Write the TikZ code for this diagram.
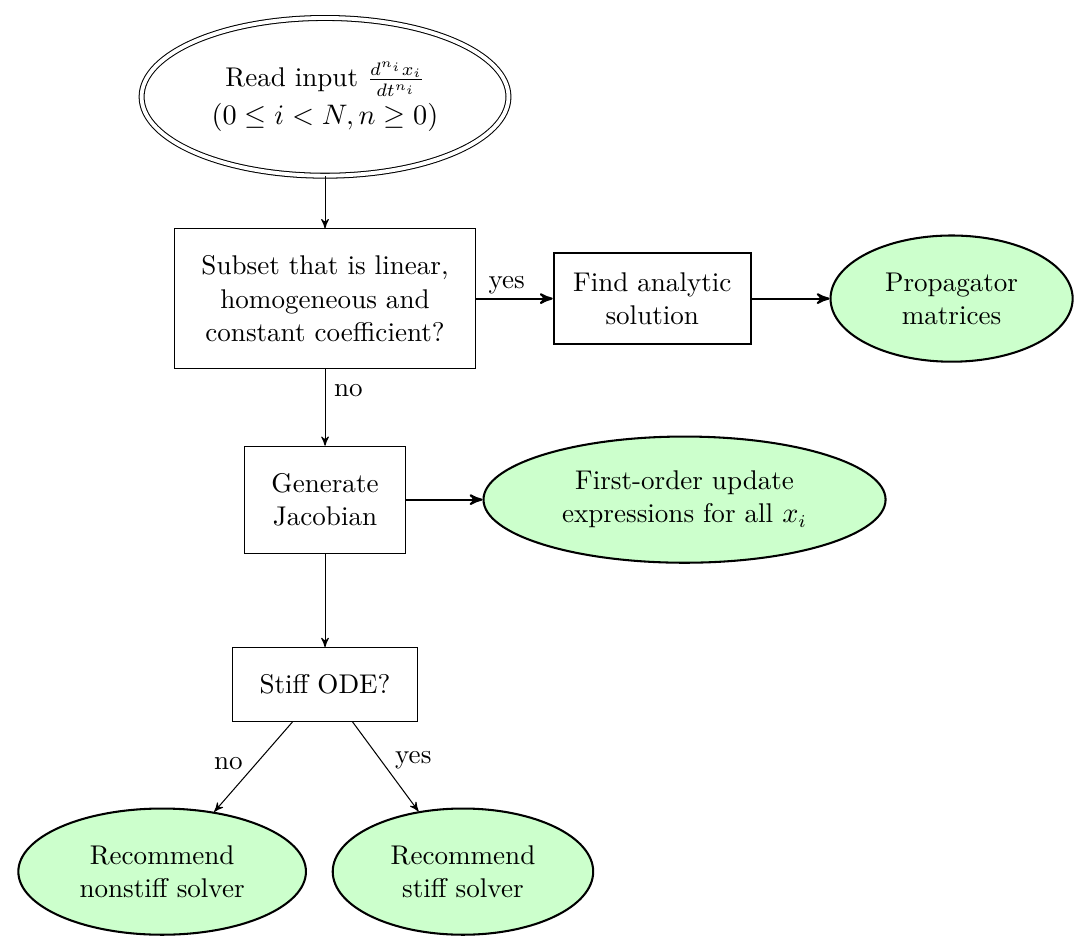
\documentclass[tikz,border=0pt]{standalone}
\usepackage{amsmath}
\usetikzlibrary{arrows,positioning,shapes}
\definecolor{resgreen}{RGB}{204,255,204}

\begin{document}
\begin{tikzpicture}[node distance=10mm,on grid,>=stealth',auto,font=\fontsize{10.5}{12.8}\selectfont,
		test/.style={rectangle,draw=black,inner sep=10.5pt,align=center},
		action/.style={rectangle,draw=black,thick,inner sep=7.5pt,align=center},
		input/.style={ellipse,draw=black,double,double distance=1.5pt,minimum width=5cm,minimum height=2.15cm,inner sep=0pt,align=center},
		result/.style={ellipse,draw=black,thick,fill=resgreen,minimum height=1.72cm,inner sep=0pt,align=center}]
		\useasboundingbox (-4.43,1.32) rectangle (10.44,-11.59);
		\node[input]  (read)                              {Read input $\frac{d^{n_i}x_i}{dt^{n_i}}$\\[2pt]$(0\leq i<N, n\geq 0)$};
		\node[test]   (subset) [below=27.5mm of read]     {Subset that is linear,\\homogeneous and\\constant coefficient?};
		\node[action] (find)   [right=44.6mm of subset]   {Find analytic\\solution};
		\node[result,minimum width=3.3cm] (prop) [right=40.8mm of find] {Propagator\\matrices};
		\node[test]   (jac)    [below=27.4mm of subset]   {Generate\\Jacobian};
		\node[result,minimum width=5.48cm] (first) [right=49mm of jac] {First-order update\\expressions for all $x_i$};
		\node[test]   (stiff)  [below=25.2mm of jac]      {Stiff ODE?};
		\node[result,minimum width=3.92cm] (nonstiffsol) [below left=25.5mm and 22.2mm of stiff] {Recommend\\nonstiff solver};
		\node[result,minimum width=3.55cm] (stiffsol)    [below right=25.5mm and 18.8mm of stiff] {Recommend\\stiff solver};
		
		\path[->]
		(read) edge (subset)
		(subset) edge[thick] node[pos=0.4,inner sep=1.5pt] {yes} (find)
		(find) edge[thick] (prop)
		(subset) edge node[pos=0.28] {no} (jac)
		(jac) edge[thick] (first)
		(jac) edge (stiff)
		(stiff) edge node[swap,pos=0.58,inner sep=1.5pt] {no} (nonstiffsol)
		(stiff) edge node[pos=0.58,inner sep=1.5pt] {yes} (stiffsol);
		\end{tikzpicture}
\end{document}
